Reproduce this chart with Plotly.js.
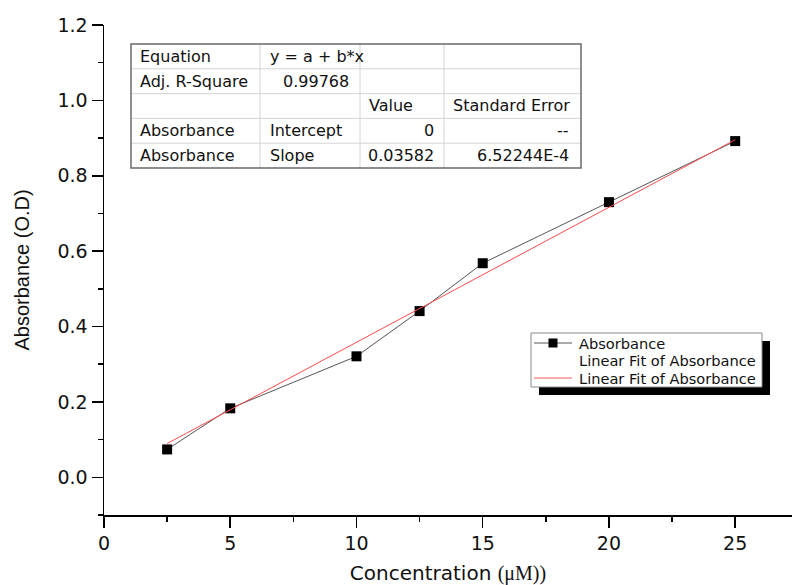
<!DOCTYPE html>
<html>
<head>
<meta charset="utf-8">
<script src="https://cdn.plot.ly/plotly-3.0.1.min.js"></script>
<style>html,body{margin:0;padding:0;background:#fff;}#chart{width:792px;height:585px;}</style>
</head>
<body>
<div id="chart"></div>
<script>
// ---- data ----
const concentration = [2.5, 5, 10, 12.5, 15, 20, 25];
const absorbance = [0.074, 0.183, 0.321, 0.441, 0.568, 0.730, 0.892];
const fitX = [2.5, 25];
const fitY = [0.0896, 0.8955];
const xTickVals = [0, 5, 10, 15, 20, 25];
const yTickVals = [0.0, 0.2, 0.4, 0.6, 0.8, 1.0, 1.2];

const tableCol0 = ["Equation", "Adj. R-Square", "", "Absorbance", "Absorbance"];
const tableCol1 = ["y = a + b*x", "0.99768", "", "Intercept", "Slope"];
const tableCol2 = ["", "", "Value", "0", "0.03582"];
const tableCol3 = ["", "", "Standard Error", "--", "6.52244E-4"];

const legendLabels = ["Absorbance", "Linear Fit of Absorbance", "Linear Fit of Absorbance"];

// ---- layout helpers (pixel -> paper) ----
const L = 104, R = 0, T = 25, B = 70, W = 792, H = 585;
const PW = W - L - R, PH = H - T - B;
const px = v => (v - L) / PW;
const py = v => (H - B - v) / PH;
const SANS = 'DejaVu Sans, Verdana, sans-serif';
const ARIAL = 'Liberation Sans, Arial, sans-serif';

const shapes = [];
const annotations = [];

// ---- fit-results table ----
const tX = [131, 260, 360, 444, 581];
const tY = [44, 68.8, 93.6, 118.4, 143.2, 168];
shapes.push({type:'rect', xref:'paper', yref:'paper', x0:px(tX[0]), x1:px(tX[4]), y0:py(tY[0]), y1:py(tY[5]),
  fillcolor:'white', line:{width:0}, layer:'above'});
for (let i = 1; i < 5; i++) {
  shapes.push({type:'line', xref:'paper', yref:'paper', x0:px(tX[0]), x1:px(tX[4]), y0:py(tY[i]), y1:py(tY[i]),
    line:{color:'#d4d4d4', width:1}, layer:'above'});
}
for (let j = 1; j < 4; j++) {
  shapes.push({type:'line', xref:'paper', yref:'paper', x0:px(tX[j]), x1:px(tX[j]), y0:py(tY[0]), y1:py(tY[5]),
    line:{color:'#d4d4d4', width:1}, layer:'above'});
}
shapes.push({type:'rect', xref:'paper', yref:'paper', x0:px(tX[0]), x1:px(tX[4]), y0:py(tY[0]), y1:py(tY[5]),
  line:{color:'#6a6a6a', width:1.5}, layer:'above'});

const cols = [tableCol0, tableCol1, tableCol2, tableCol3];
function cellPos(c, txt) {
  const numeric = /^[0-9\-.E]+$/.test(txt);
  if (c === 0) return {x: tX[0] + 7, a: 'left'};
  if (c === 1) return numeric ? {x: tX[2] - 9, a: 'right'} : {x: tX[1] + 8, a: 'left'};
  if (c === 2) return numeric ? {x: tX[3] - 8, a: 'right'} : {x: tX[2] + 7, a: 'left'};
  return numeric ? {x: tX[4] - 10, a: 'right'} : {x: tX[3] + 7, a: 'left'};
}
cols.forEach((col, c) => col.forEach((txt, r) => {
  if (!txt) return;
  const p = cellPos(c, txt);
  annotations.push({xref:'paper', yref:'paper', x:px(p.x), y:py((tY[r] + tY[r+1]) / 2),
    xanchor:p.a, yanchor:'middle', showarrow:false, text:txt,
    font:{family:SANS, size:16, color:'#111'}});
}));

// ---- legend (box with drop shadow) ----
const lg = {x0: 531, x1: 762, y0: 333, y1: 387, sh: 8};
shapes.push({type:'rect', xref:'paper', yref:'paper', x0:px(lg.x0 + lg.sh), x1:px(lg.x1 + lg.sh),
  y0:py(lg.y1 + lg.sh), y1:py(lg.y0 + lg.sh), fillcolor:'black', line:{width:0}, layer:'above'});
shapes.push({type:'rect', xref:'paper', yref:'paper', x0:px(lg.x0), x1:px(lg.x1), y0:py(lg.y1), y1:py(lg.y0),
  fillcolor:'white', line:{color:'#8a8a8a', width:1}, layer:'above'});
const rowY = [343, 360.5, 378];
shapes.push({type:'line', xref:'paper', yref:'paper', x0:px(534), x1:px(572), y0:py(rowY[0]), y1:py(rowY[0]),
  line:{color:'#555', width:1}, layer:'above'});
shapes.push({type:'rect', xref:'paper', yref:'paper', x0:px(548.5), x1:px(557.5), y0:py(rowY[0] + 4.5), y1:py(rowY[0] - 4.5),
  fillcolor:'black', line:{width:0}, layer:'above'});
shapes.push({type:'line', xref:'paper', yref:'paper', x0:px(534), x1:px(572), y0:py(rowY[2]), y1:py(rowY[2]),
  line:{color:'#ff5a5a', width:1}, layer:'above'});
legendLabels.forEach((t, i) => annotations.push({xref:'paper', yref:'paper', x:px(577), y:py(rowY[i]),
  xanchor:'left', yanchor:'middle', showarrow:false, text:t, font:{family:SANS, size:14.6, color:'#111'}}));

const traces = [
  {x: concentration, y: absorbance, name: legendLabels[0], type: 'scatter', mode: 'lines+markers',
   line: {color: '#555', width: 1}, marker: {symbol: 'square', size: 10, color: 'black'}},
  {x: fitX, y: fitY, name: legendLabels[2], type: 'scatter', mode: 'lines',
   line: {color: '#ff4a4a', width: 1}}
];

const tickFont = {family: SANS, size: 19, color: '#111'};
const layout = {
  width: W, height: H,
  margin: {l: L, r: R, t: T, b: B, pad: 0},
  paper_bgcolor: 'white', plot_bgcolor: 'white',
  showlegend: false,
  xaxis: {range: [0, 27.25], tickvals: xTickVals, ticks: 'outside', ticklen: 11, tickwidth: 1.5,
    tickcolor: 'black', showline: true, linewidth: 1.5, linecolor: 'black', showgrid: false, zeroline: false,
    tickfont: tickFont, minor: {dtick: 2.5, tick0: 0, ticks: 'outside', ticklen: 5, tickwidth: 1.5, tickcolor: 'black', showgrid: false},
    title: {text: 'Concentration <span style="font-family:Liberation Serif, Times New Roman, serif">(μM))</span>',
      font: {family: SANS, size: 20, color: '#111'}, standoff: 16}},
  yaxis: {range: [-0.1, 1.2], tickvals: yTickVals, tickformat: '.1f', ticks: 'outside', ticklen: 11, tickwidth: 1.5,
    tickcolor: 'black', showline: true, linewidth: 1.5, linecolor: 'black', showgrid: false, zeroline: false,
    tickfont: tickFont, minor: {dtick: 0.1, tick0: 0, ticks: 'outside', ticklen: 5, tickwidth: 1.5, tickcolor: 'black', showgrid: false},
    title: {text: 'Absorbance (O.D)', font: {family: ARIAL, size: 20, color: '#111'}, standoff: 22}},
  shapes: shapes,
  annotations: annotations
};

Plotly.newPlot('chart', traces, layout, {staticPlot: true, displayModeBar: false});
</script>
</body>
</html>
